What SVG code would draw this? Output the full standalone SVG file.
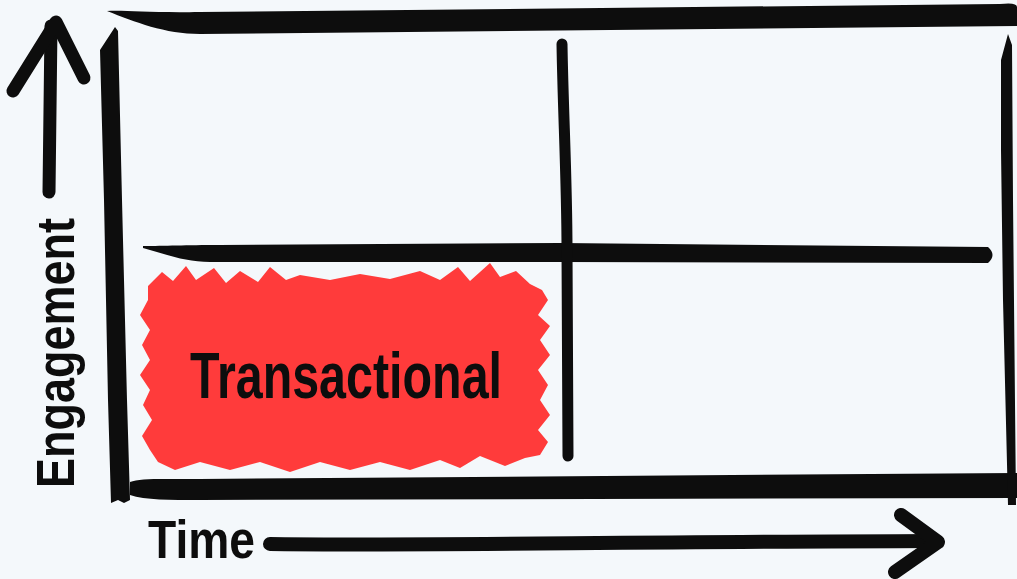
<svg xmlns="http://www.w3.org/2000/svg" width="1017" height="579" viewBox="0 0 1017 579">
<style>
.ink{fill:#0d0d0d;stroke:none}
.pen{fill:none;stroke:#0d0d0d;stroke-linecap:round;stroke-linejoin:round}
.hand{font-family:"Liberation Sans","DejaVu Sans",sans-serif;font-weight:bold;fill:#0d0d0d}
</style>
<rect width="1017" height="579" fill="#F4F8FB"/>
<g id="connectors">
<!-- frame -->
<path class="ink" d="M107,11 C125,10 150,13 200,12 L1000,4 Q1017,2 1017,7 L1017,26 L200,34 C165,34 135,22 107,11 Z"/>
<path class="ink" d="M115,27 L118,31 L122,200 L127,400 L130,500 L124,503 L118,500 L111,503 L108,400 L104,200 L100,50 Z"/>
<path class="ink" d="M130,482 C140,478 160,479 200,479 L1017,473 L1017,498 L200,500 C170,500 145,500 130,495 Z"/>
<path class="ink" d="M1008,34 L1012,45 L1013,200 L1016,505 L1008,505 L1003,300 L1001,150 L1001,60 Z"/>
<!-- inner dividers -->
<path class="ink" d="M143,246 C165,246 185,245 220,245 L560,243 L988,247 Q997,255 988,263 L560,262 L210,262 C185,262 165,254 143,248 Z"/>
<path class="pen" d="M562,44 C563,110 567,180 567,250 L568,456" stroke-width="11"/>
<!-- axes -->
<path class="pen" d="M49,192 L51,26" stroke-width="13"/>
<path class="pen" d="M13,91 L56,22 L84,78" stroke-width="13"/>
<path class="pen" d="M270,544 C400,546 600,542 935,541" stroke-width="14"/>
<path class="pen" d="M901,515 L938,542 L895,572" stroke-width="14"/>
</g>
<g id="transactional">
<path fill="#FF3B3B" d="M148,286 L162,272 L173,281 L186,266 L196,280 L214,268 L226,283 L240,271 L258,282 L270,267 L286,280 L300,275 L330,280 L360,274 L390,279 L420,271 L440,280 L458,267 L470,281 L490,263 L500,277 L516,271 L530,284 L542,290 L548,300 L538,315 L550,326 L540,340 L550,355 L538,370 L548,385 L540,400 L550,415 L538,430 L548,442 L540,455 L525,458 L505,466 L480,456 L460,468 L440,460 L410,470 L380,462 L350,470 L320,462 L290,472 L260,462 L230,470 L200,462 L175,470 L158,462 L150,450 L142,436 L152,420 L143,405 L150,390 L140,375 L150,360 L142,345 L150,330 L140,315 L148,300 Z"/>
<text class="hand" x="190" y="398" font-size="64" textLength="312" lengthAdjust="spacingAndGlyphs">Transactional</text>
</g>
<g id="label-engagement">
<text class="hand" transform="translate(74,488) rotate(-90)" x="0" y="0" font-size="54" textLength="270" lengthAdjust="spacingAndGlyphs">Engagement</text>
</g>
<g id="label-time">
<text class="hand" x="148" y="558" font-size="54" textLength="107" lengthAdjust="spacingAndGlyphs">Time</text>
</g>
</svg>
